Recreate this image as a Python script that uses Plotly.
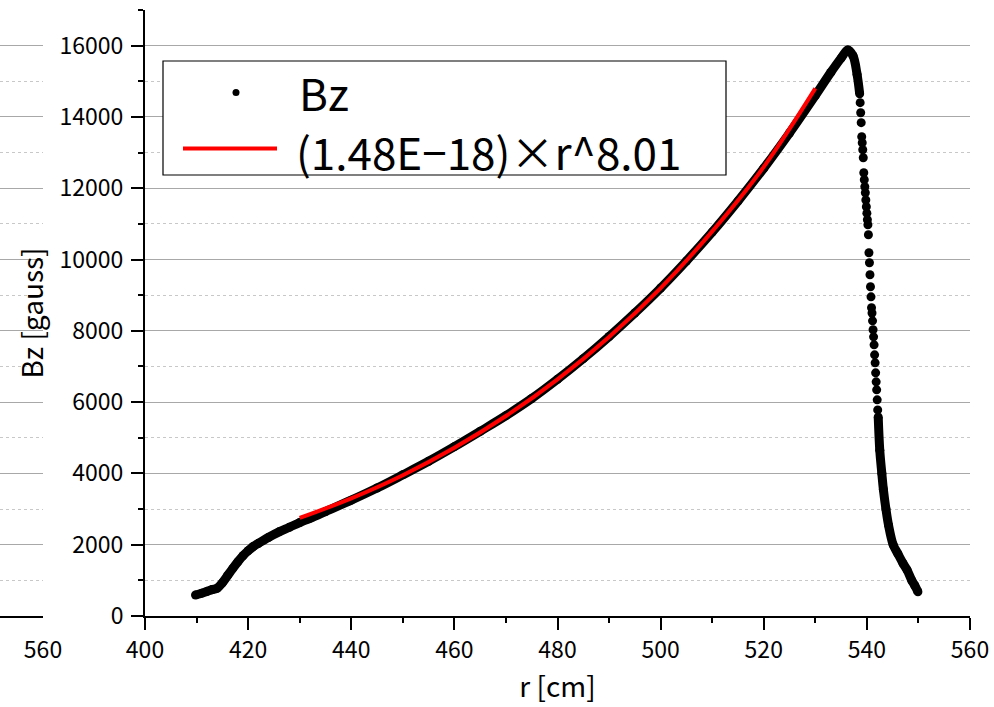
import plotly.graph_objects as go

# ---------------- data ----------------
# Bz measured: smooth rising part (cm, gauss)
r_rise = [409.8, 411, 412, 413, 414, 415, 416, 417, 418, 419, 420, 421, 422, 424, 426,
          428, 430, 432, 435, 440, 445, 450, 455, 460, 465, 470, 475, 480, 485, 490,
          495, 500, 505, 510, 515, 520, 525, 530, 533, 535, 536.3, 537.3, 538.1, 538.6]
bz_rise = [590, 640, 690, 740, 780, 930, 1130, 1330, 1520, 1690, 1830, 1950, 2040, 2210, 2360,
           2490, 2620, 2740, 2930, 3250, 3590, 3960, 4340, 4750, 5180, 5620, 6100, 6640, 7220, 7840,
           8500, 9200, 9960, 10770, 11640, 12560, 13550, 14600, 15250, 15650, 15880, 15720, 15190, 14650]
# Bz measured: steep drop (individual dots visible)
r_drop = [538.7, 538.8, 538.9, 539.0, 539.1, 539.2, 539.3, 539.4, 539.5, 539.6, 539.7, 539.8,
          539.9, 540.0, 540.1, 540.2, 540.3, 540.4, 540.5, 540.6, 540.7, 540.8, 540.9, 541.0,
          541.1, 541.2, 541.3, 541.4, 541.5, 541.6, 541.7, 541.8, 541.9, 542.0, 542.1]
bz_drop = [14400, 14119, 13839, 13446, 13277, 13081, 12856, 12435, 12238, 12042, 11874, 11670,
           11480, 11300, 11116, 10975, 10695, 10189, 9909, 9572, 9235, 8954, 8646, 8500,
           8280, 8030, 7831, 7607, 7326, 7102, 6821, 6568, 6344, 6063, 5782]
# Bz measured: tail
r_tail = [542.2, 542.5, 542.9, 543.2, 543.7, 544.2, 545.1, 546.0, 547.0, 547.8, 548.7, 549.3, 549.9]
bz_tail = [5586, 4650, 4000, 3550, 3000, 2550, 2000, 1750, 1480, 1290, 1000, 850, 680]

# power-law fit curve (red)
r_fit = [430, 440, 450, 460, 470, 480, 490, 500, 510, 520, 530]
bz_fit = [2750, 3300, 3950, 4720, 5610, 6640, 7830, 9200, 10790, 12600, 14800]

series_name = "Bz"
fit_label = "(1.48E\u221218)\u00d7r^8.01"
x_title = "r [cm]"
y_title = "Bz [gauss]"

x_range = [400, 560]
y_range = [0, 17000]

FONT = "Noto Sans CJK JP"
W, H = 994, 707
ML, MR, MT, MB = 0, 24, 10, 91
PW, PH = W - ML - MR, H - MT - MB


def px(x):
    return (x - ML) / PW


def py(y):
    return (H - MB - y) / PH


r_all = r_rise + r_drop + r_tail
bz_all = bz_rise + bz_drop + bz_tail

fig = go.Figure()
# thick band for the dense parts
fig.add_trace(go.Scatter(x=r_rise, y=bz_rise, mode="lines", line=dict(color="black", width=9, shape="spline"),
                         showlegend=False, hoverinfo="skip"))
fig.add_trace(go.Scatter(x=r_tail, y=bz_tail, mode="lines", line=dict(color="black", width=9, shape="spline"),
                         showlegend=False, hoverinfo="skip"))
fig.add_trace(go.Scatter(x=r_all, y=bz_all, mode="markers", name=series_name,
                         marker=dict(color="black", size=9), showlegend=False))
fig.add_trace(go.Scatter(x=r_fit, y=bz_fit, mode="lines", name=fit_label,
                         line=dict(color="#ff0000", width=4, shape="spline"), showlegend=False))

# a neighbouring panel's right edge (left strip)
fig.add_trace(go.Scatter(x=[555], y=[-1000], xaxis="x2", yaxis="y2", mode="markers",
                         marker=dict(opacity=0), showlegend=False, hoverinfo="skip"))

tickfont = dict(family=FONT, size=23, color="black")
major_grid = "#a8a8a8"
minor_grid = "#c8c8c8"

fig.update_layout(
    template="none",
    width=W, height=H,
    margin=dict(l=ML, r=MR, t=MT, b=MB, autoexpand=False),
    paper_bgcolor="white", plot_bgcolor="white",
    font=dict(family=FONT, color="black"),
    xaxis=dict(domain=[145 / PW, 1], range=x_range, dtick=20, tick0=0, automargin=False,
               showgrid=False, zeroline=False, mirror=False,
               showline=True, linecolor="black", linewidth=2,
               ticks="outside", ticklen=12, tickwidth=2, tickcolor="black",
               tickfont=tickfont, ticklabelstandoff=0,
               minor=dict(dtick=10, ticks="outside", ticklen=5, tickwidth=2, tickcolor="black", showgrid=False),
               title=dict(text=x_title, font=dict(family=FONT, size=28), standoff=10)),
    yaxis=dict(range=y_range, dtick=2000, tick0=0, automargin=False, tickformat="d",
               showgrid=True, gridcolor=major_grid, gridwidth=1, zeroline=False,
               showline=True, linecolor="black", linewidth=2,
               ticks="outside", ticklen=12, tickwidth=2, tickcolor="black",
               tickfont=tickfont, ticklabelstandoff=3,
               minor=dict(dtick=1000, ticks="outside", ticklen=5, tickwidth=2, tickcolor="black",
                          showgrid=True, gridcolor=minor_grid, griddash="dot", gridwidth=1),
               title=dict(text=y_title, font=dict(family=FONT, size=28), standoff=8)),
    xaxis2=dict(domain=[0, 43 / PW], range=[560 - 43 / 5.156, 560], dtick=20, tick0=0,
                anchor="y2", showgrid=False, zeroline=False, automargin=False,
                showline=True, linecolor="black", linewidth=2,
                ticks="inside", ticklen=10, tickwidth=2, tickcolor="black",
                tickfont=tickfont, ticklabelstandoff=12),
    yaxis2=dict(range=y_range, dtick=2000, tick0=0, anchor="x2", automargin=False,
                showgrid=True, gridcolor=major_grid, gridwidth=1, zeroline=False,
                showline=False, ticks="", showticklabels=False,
                minor=dict(dtick=1000, showgrid=True, gridcolor=minor_grid, griddash="dot", gridwidth=1)),
    showlegend=False,
)

# ---------------- legend box (drawn) ----------------
shapes = [
    dict(type="rect", xref="paper", yref="paper", x0=px(163), x1=px(726), y0=py(175), y1=py(61),
         line=dict(color="black", width=1.2), fillcolor="white", layer="above"),
    dict(type="circle", xref="paper", yref="paper", x0=px(232.5), x1=px(239.5), y0=py(96), y1=py(89),
         line=dict(color="black", width=0), fillcolor="black", layer="above"),
    dict(type="line", xref="paper", yref="paper", x0=px(183), x1=px(277), y0=py(148.5), y1=py(148.5),
         line=dict(color="#ff0000", width=4), layer="above"),
]
annotations = [
    dict(xref="paper", yref="paper", x=px(297), y=py(92), text=series_name,
         showarrow=False, align="left", xanchor="left", yanchor="middle",
         font=dict(family=FONT, size=44, color="black")),
    dict(xref="paper", yref="paper", x=px(294), y=py(151), text=fit_label,
         showarrow=False, align="left", xanchor="left", yanchor="middle",
         font=dict(family=FONT, size=44, color="black")),
]
fig.update_layout(shapes=shapes, annotations=annotations)

fig.write_html("out.html")
